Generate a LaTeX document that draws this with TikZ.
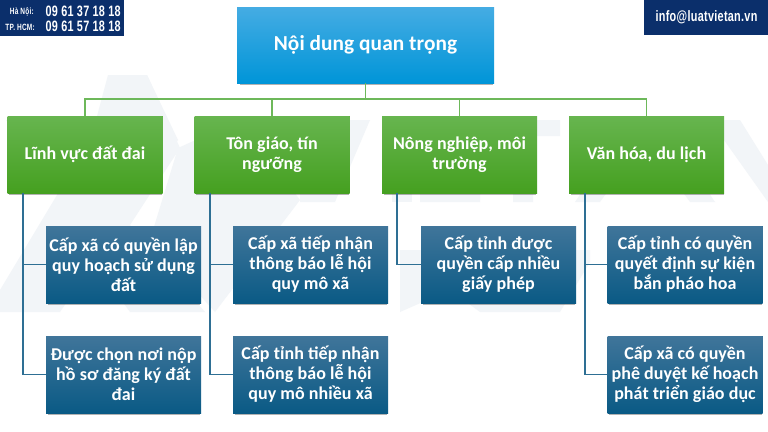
\documentclass[tikz,border=0pt]{standalone}
\usepackage{fontspec}
\usetikzlibrary{shadows}
\setmainfont{Carlito}[BoldFont={Carlito Bold},LetterSpace=0.3]
\newfontfamily\headfont{Liberation Sans}[BoldFont={Liberation Sans Bold},FakeStretch=0.72,LetterSpace=2]
\definecolor{navy}{HTML}{0B2F6B}
\definecolor{wm}{HTML}{F2F5F8}
\definecolor{glink}{HTML}{6DB85A}
\definecolor{blink}{HTML}{2E6F94}
\tikzset{
 boxbase/.style={inner sep=0pt,align=center,text=white,font=\bfseries\fontsize{13.5}{15}\selectfont,
   drop shadow={shadow xshift=0.5pt,shadow yshift=-1.6pt,shadow scale=0.985,opacity=.3,fill=black}},
 rootbox/.style={boxbase,minimum width=192.75pt,minimum height=57pt,preaction={fill=rootB},top color=rootT,bottom color=rootB,font=\bfseries\fontsize{16}{18}\selectfont},
 greenbox/.style={boxbase,minimum width=116.25pt,minimum height=57.75pt,preaction={fill=greenM},top color=greenT,middle color=greenM,bottom color=greenB},
 bluebox/.style={boxbase,minimum width=116.25pt,minimum height=57.75pt,preaction={fill=blueM},top color=blueT,middle color=blueM,bottom color=blueB},
 glinkline/.style={draw=glink,line width=1.4pt},
 blinkline/.style={draw=blink,line width=1.4pt},
 headtext/.style={inner sep=0pt,text=white,font=\headfont\bfseries\fontsize{11.3}{13}\selectfont},
 headsmall/.style={inner sep=0pt,text=white,font=\headfont\bfseries\fontsize{6.8}{8}\selectfont}
}
\definecolor{rootT}{HTML}{45ACE3}\definecolor{rootB}{HTML}{0095D8}
\definecolor{greenT}{HTML}{67B54F}\definecolor{greenM}{HTML}{55AA36}\definecolor{greenB}{HTML}{45A020}
\definecolor{blueT}{HTML}{40759A}\definecolor{blueM}{HTML}{1F678F}\definecolor{blueB}{HTML}{0A5A85}
\begin{document}
\begin{tikzpicture}[x=0.75pt,y=-0.75pt]
\useasboundingbox (0,0) rectangle (768,432);
\fill[white] (0,0) rectangle (768,432);
% watermark logo
\fill[wm] (108,75) -- (147,75) -- (178,140) -- (60,312) -- (0,312) -- (0,290) -- (60,190) -- (6,120) -- (60,120) -- (88,150) -- cycle;
\fill[wm] (147,75) -- (180,148) -- (130,225) -- (205,312) -- (130,312) -- (85,250) -- cycle;
\fill[wm] (178,148) -- (240,120) -- (300,200) -- (215,312) -- (150,240) -- cycle;
% watermark letters
\fill[wm] (300,120) -- (370,120) -- (335,202) -- (300,202) -- cycle;
\fill[wm] (392,120) -- (412,120) -- (412,202) -- (392,202) -- cycle;
\fill[wm] (420,120) -- (478,120) -- (478,136) -- (440,136) -- (440,152) -- (474,152) -- (474,168) -- (440,168) -- (440,186) -- (480,186) -- (480,202) -- (420,202) -- cycle;
\fill[wm] (486,120) -- (560,120) -- (560,136) -- (533,136) -- (533,202) -- (513,202) -- (513,136) -- (486,136) -- cycle;
\fill[wm] (630,120) -- (660,120) -- (715,202) -- (690,202) -- (645,140) -- (600,202) -- (575,202) -- cycle;
\fill[wm] (724,120) -- (740,120) -- (768,165) -- (768,202) -- (724,140) -- cycle;
\fill[wm] (400,250) -- (590,250) -- (590,262) -- (560,312) -- (480,312) -- (450,290) -- (400,312) -- cycle;
% header bars
\fill[navy] (0,0) rectangle (124,36);
\fill[navy] (644,0) rectangle (768,35);
\node[headtext,anchor=east] (ph1) at (121,11) {09 61 37 18 18};
\node[headtext,anchor=east] (ph2) at (121,26) {09 61 57 18 18};
\node[headsmall,anchor=east] (lb1) at (34,11.5) {Hà Nội:};
\node[headsmall,anchor=east] (lb2) at (35,27) {TP. HCM:};
\node[headtext,anchor=center] (mail) at (706.5,17.5) {info@luatvietan.vn};
% boxes
\node[rootbox] (root) at (365.5,45) {Nội dung quan trọng};
\node[greenbox] (g1) at (85,154.5) {Lĩnh vực đất đai};
\node[greenbox] (g2) at (272,154.5) {Tôn giáo, tín\\ngưỡng};
\node[greenbox] (g3) at (459.5,154.5) {Nông nghiệp, môi\\trường};
\node[greenbox] (g4) at (646.5,154.5) {Văn hóa, du lịch};
\node[bluebox] (a1) at (123.5,264.5) {Cấp xã có quyền lập\\quy hoạch sử dụng\\đất};
\node[bluebox] (a2) at (123.5,374.5) {Được chọn nơi nộp\\hồ sơ đăng ký đất\\đai};
\node[bluebox] (b1) at (310.5,264.5) {Cấp xã tiếp nhận\\thông báo lễ hội\\quy mô xã};
\node[bluebox] (b2) at (310.5,374.5) {Cấp tỉnh tiếp nhận\\thông báo lễ hội\\quy mô nhiều xã};
\node[bluebox] (c1) at (498.5,264.5) {Cấp tỉnh được\\quyền cấp nhiều\\giấy phép};
\node[bluebox] (d1) at (685,264.5) {Cấp tỉnh có quyền\\quyết định sự kiện\\bắn pháo hoa};
\node[bluebox] (d2) at (685,374.5) {Cấp xã có quyền\\phê duyệt kế hoạch\\phát triển giáo dục};
% connectors
\foreach \t in {g1,g2,g3,g4}{
  \draw[glinkline] (root.south) -- ++(0,16) -| (\t.north);
}
\coordinate (sa) at ([xshift=12pt]g1.south west);
\coordinate (sb) at ([xshift=11.5pt]g2.south west);
\coordinate (sc) at ([xshift=11.5pt]g3.south west);
\coordinate (sd) at ([xshift=12pt]g4.south west);
\draw[blinkline] (sa) |- (a1.west);
\draw[blinkline] (sa) |- (a2.west);
\draw[blinkline] (sb) |- (b1.west);
\draw[blinkline] (sb) |- (b2.west);
\draw[blinkline] (sc) |- (c1.west);
\draw[blinkline] (sd) |- (d1.west);
\draw[blinkline] (sd) |- (d2.west);
\end{tikzpicture}
\end{document}
